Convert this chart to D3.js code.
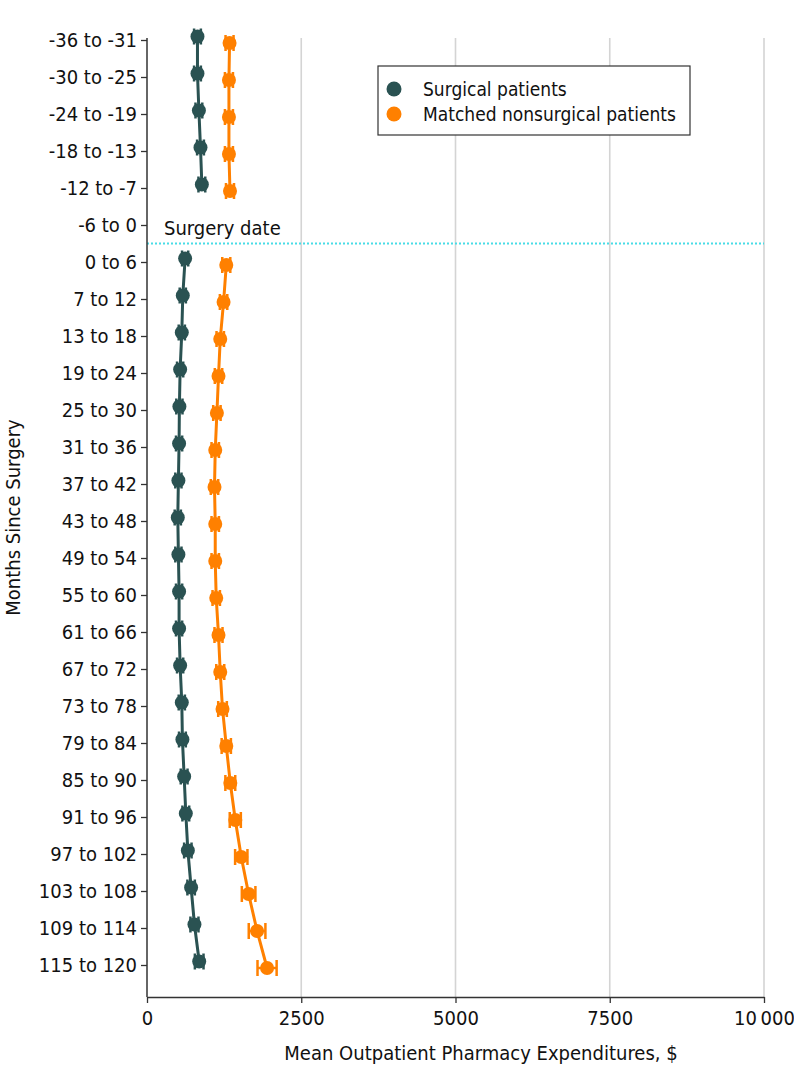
<!DOCTYPE html>
<html>
<head>
<meta charset="utf-8">
<script src="https://cdn.jsdelivr.net/npm/d3@7"></script>
<style>
  body { margin: 0; background: #fff; }
  svg text { font-family: "DejaVu Sans Condensed", "DejaVu Sans", sans-serif; fill: #111; }
</style>
</head>
<body>
<div id="chart"></div>
<script>
const width = 794
const height = 1081

// months since surgery, top to bottom
const periods = [
  "-36 to -31", "-30 to -25", "-24 to -19", "-18 to -13", "-12 to -7", "-6 to 0",
  "0 to 6", "7 to 12", "13 to 18", "19 to 24", "25 to 30", "31 to 36", "37 to 42",
  "43 to 48", "49 to 54", "55 to 60", "61 to 66", "67 to 72", "73 to 78", "79 to 84",
  "85 to 90", "91 to 96", "97 to 102", "103 to 108", "109 to 114", "115 to 120"
]
const surgical = [
  818, 818, 841, 867, 889, null,
  618, 580, 564, 537, 525, 520, 509, 499, 509, 520,
  520, 537, 564, 574, 602, 629, 662, 715, 769, 846
]
const surgicalErr = [
  55, 55, 55, 55, 55, null,
  50, 50, 50, 50, 50, 50, 50, 50, 50, 50,
  50, 50, 50, 55, 55, 55, 60, 60, 65, 70
]
const nonsurgical = [
  1338, 1328, 1328, 1328, 1345, null,
  1285, 1241, 1187, 1159, 1133, 1106, 1094, 1106, 1106, 1122,
  1159, 1187, 1224, 1285, 1350, 1431, 1528, 1647, 1784, 1946
]
const nonsurgicalErr = [
  65, 65, 65, 65, 65, null,
  65, 60, 60, 60, 60, 60, 60, 60, 60, 60,
  65, 65, 70, 75, 80, 90, 100, 110, 135, 155
]
const xTicks = [0, 2500, 5000, 7500, 10000]
const surgeryBetween = ["-6 to 0", "0 to 6"]

const colors = { surgical: "#2a5252", nonsurgical: "#ff8000" }

const plot = { left: 147, right: 764, top: 38, bottom: 997 }
const fontSize = "20px"

const svg = d3.select("div#chart").append("svg").attr("width", width).attr("height", height)

const x = d3.scaleLinear().domain([0, 10000]).range([plot.left, plot.right])
const y = d3.scalePoint().domain(periods).range([40, 965])

// grid
svg.append("g").selectAll("line").data(xTicks.slice(1)).enter().append("line")
  .attr("x1", d => x(d)).attr("x2", d => x(d))
  .attr("y1", plot.top).attr("y2", plot.bottom)
  .attr("stroke", "#d4d4d4").attr("stroke-width", 1.6)

// surgery date
const ySurg = (y(surgeryBetween[0]) + y(surgeryBetween[1])) / 2
svg.append("line")
  .attr("x1", plot.left).attr("x2", plot.right)
  .attr("y1", ySurg).attr("y2", ySurg)
  .attr("stroke", "#48dce6").attr("stroke-width", 2).attr("stroke-dasharray", "2,2")
svg.append("text").attr("x", x(0) + 17).attr("y", ySurg - 9).text("Surgery date").style("font-size", fontSize)

// axes
const yAxis = d3.axisLeft(y).tickSize(6).tickPadding(4).tickSizeOuter(0)
const yAxisGroup = svg.append("g").attr("transform", `translate(${plot.left},0)`).call(yAxis)
yAxisGroup.select(".domain").remove()
yAxisGroup.selectAll("text").style("font-size", fontSize).attr("fill", "#111")
yAxisGroup.selectAll("line").attr("stroke", "#333").attr("stroke-width", 1.3)
svg.append("line").attr("x1", plot.left).attr("x2", plot.left).attr("y1", plot.top).attr("y2", plot.bottom)
  .attr("stroke", "#333").attr("stroke-width", 1.5)

const xAxis = d3.axisBottom(x).tickValues(xTicks).tickSize(6).tickPadding(8).tickSizeOuter(0)
  .tickFormat(d => d >= 10000 ? d3.format(",")(d).replace(",", "\u2009") : d)
const xAxisGroup = svg.append("g").attr("transform", `translate(0,${plot.bottom})`).call(xAxis)
xAxisGroup.select(".domain").attr("stroke", "#333").attr("stroke-width", 1.5)
xAxisGroup.selectAll("line").attr("stroke", "#333").attr("stroke-width", 1.3)
xAxisGroup.selectAll("text").style("font-size", fontSize).attr("fill", "#111")

svg.append("text").attr("x", 481).attr("y", 1060)
  .attr("text-anchor", "middle").style("font-size", fontSize)
  .text("Mean Outpatient Pharmacy Expenditures, $")
svg.append("text").attr("transform", `translate(20,${(plot.top + plot.bottom) / 2}) rotate(-90)`)
  .attr("text-anchor", "middle").style("font-size", fontSize)
  .text("Months Since Surgery")

// series
const series = [
  { key: "surgical", values: surgical, err: surgicalErr, dy: -3.5 },
  { key: "nonsurgical", values: nonsurgical, err: nonsurgicalErr, dy: 3 }
]

series.forEach(s => {
  const pts = periods.map((p, i) => ({ p, v: s.values[i], e: s.err[i] }))
  const g = svg.append("g")
  const line = d3.line().defined(d => d.v != null).x(d => x(d.v)).y(d => y(d.p) + s.dy)
  g.append("path").attr("d", line(pts))
    .attr("fill", "none").attr("stroke", colors[s.key]).attr("stroke-width", 3)

  const valid = pts.filter(d => d.v != null)
  const eb = g.selectAll("g.eb").data(valid).enter().append("g")
  eb.append("line")
    .attr("x1", d => x(d.v - d.e)).attr("x2", d => x(d.v + d.e))
    .attr("y1", d => y(d.p) + s.dy).attr("y2", d => y(d.p) + s.dy)
    .attr("stroke", colors[s.key]).attr("stroke-width", 2.5)
  ;[-1, 1].forEach(sign => {
    eb.append("line")
      .attr("x1", d => x(d.v + sign * d.e)).attr("x2", d => x(d.v + sign * d.e))
      .attr("y1", d => y(d.p) + s.dy - 8).attr("y2", d => y(d.p) + s.dy + 8)
      .attr("stroke", colors[s.key]).attr("stroke-width", 2.5)
  })
  g.selectAll("circle").data(valid).enter().append("circle")
    .attr("cx", d => x(d.v)).attr("cy", d => y(d.p) + s.dy).attr("r", 7)
    .attr("fill", colors[s.key])
})

// legend
const legend = svg.append("g")
legend.append("rect").attr("x", 378).attr("y", 66).attr("width", 312).attr("height", 69)
  .attr("fill", "#fff").attr("stroke", "#333").attr("stroke-width", 1.2)
const legendItems = [
  { label: "Surgical patients", key: "surgical" },
  { label: "Matched nonsurgical patients", key: "nonsurgical" }
]
legendItems.forEach((d, i) => {
  legend.append("circle").attr("cx", 394).attr("cy", 89 + i * 25).attr("r", 7.5).attr("fill", colors[d.key])
  legend.append("text").attr("x", 423).attr("y", 89 + i * 25).attr("dy", "0.35em")
    .text(d.label).style("font-size", "19px")
})
</script>
</body>
</html>
